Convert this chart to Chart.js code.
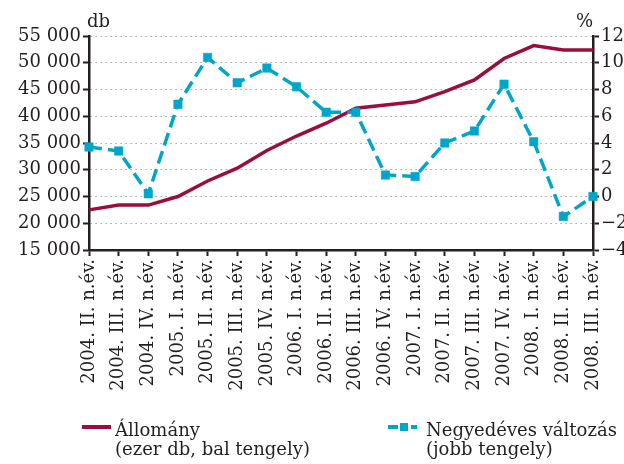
<!DOCTYPE html>
<html>
<head>
<meta charset="utf-8">
<script src="https://cdn.jsdelivr.net/npm/chart.js@4.4.1/dist/chart.umd.min.js"></script>
<style>
  html, body { margin: 0; padding: 0; background: #fff; }
  #wrap { position: relative; width: 624px; height: 464px; overflow: hidden; background: #fff; }
  #c { position: absolute; left: 0; top: 0; }
  .lg { position: absolute; font-family: "DejaVu Serif", serif; font-size: 18px; line-height: 19px; color: #231f20; white-space: nowrap; }
  .sw { position: absolute; }
</style>
</head>
<body>
<div id="wrap">
  <canvas id="c" width="624" height="464"></canvas>
  <div class="sw" style="left:82px; top:425px; width:29px; height:3.5px; background:#9b0d3c;"></div>
  <div class="lg" id="lg1" style="left:115px; top:420px;"></div>
  <div class="sw" style="left:388px; top:425px; width:10px; height:3.5px; background:#00a6c9;"></div>
  <div class="sw" style="left:400px; top:422.5px; width:8px; height:8.5px; background:#00a6c9;"></div>
  <div class="sw" style="left:411px; top:425px; width:6px; height:3.5px; background:#00a6c9;"></div>
  <div class="lg" id="lg2" style="left:426px; top:420px;"></div>
</div>
<script>
// ---- data ----
const categories = [
  "2004. II. n.év.", "2004. III. n.év.", "2004. IV. n.év.",
  "2005. I. n.év.", "2005. II. n.év.", "2005. III. n.év.", "2005. IV. n.év.",
  "2006. I. n.év.", "2006. II. n.év.", "2006. III. n.év.", "2006. IV. n.év.",
  "2007. I. n.év.", "2007. II. n.év.", "2007. III. n.év.", "2007. IV. n.év.",
  "2008. I. n.év.", "2008. II. n.év.", "2008. III. n.év."
];
const allomany = [22500, 23400, 23400, 25000, 27900, 30300, 33600, 36300, 38700, 41500, 42100, 42700, 44600, 46800, 50800, 53200, 52400, 52400];
const valtozas = [3.7, 3.4, 0.2, 6.9, 10.4, 8.5, 9.6, 8.2, 6.3, 6.3, 1.6, 1.5, 4.0, 4.9, 8.4, 4.1, -1.5, 0.0];
const seriesNames = ["Állomány", "Negyedéves változás"];
const legendNotes = ["(ezer db, bal tengely)", "(jobb tengely)"];
const leftUnit = "db";
const rightUnit = "%";
const leftRange = { min: 15000, max: 55000, step: 5000 };
const rightRange = { min: -4, max: 12, step: 2 };

// ---- legend text ----
document.getElementById('lg1').innerHTML = seriesNames[0] + '<br>' + legendNotes[0];
document.getElementById('lg2').innerHTML = seriesNames[1] + '<br>' + legendNotes[1];

const ink = '#231f20';
const font = { family: "'DejaVu Serif', serif", size: 18 };
const fmtThousands = v => String(v).replace(/\B(?=(\d{3})+(?!\d))/g, ' ');
const fmtMinus = v => (v < 0 ? '\u2212' + Math.abs(v) : String(v));

const unitPlugin = {
  id: 'units',
  afterDraw(chart) {
    const { ctx, chartArea } = chart;
    ctx.save();
    ctx.font = "18px 'DejaVu Serif', serif";
    ctx.fillStyle = ink;
    ctx.textBaseline = 'alphabetic';
    ctx.textAlign = 'left';
    ctx.fillText(leftUnit, chartArea.left - 2, 27);
    ctx.textAlign = 'right';
    ctx.fillText(rightUnit, chartArea.right, 27);
    ctx.restore();
  }
};

new Chart(document.getElementById('c'), {
  type: 'line',
  data: {
    labels: categories,
    datasets: [
      {
        label: seriesNames[0],
        data: allomany,
        yAxisID: 'y',
        borderColor: '#9b0d3c',
        backgroundColor: '#9b0d3c',
        borderWidth: 3.5,
        pointRadius: 0,
        tension: 0,
        order: 2
      },
      {
        label: seriesNames[1],
        data: valtozas,
        yAxisID: 'y1',
        borderColor: '#00a6c9',
        backgroundColor: '#00a6c9',
        borderWidth: 3.5,
        borderDash: [13, 6],
        pointStyle: 'rect',
        pointRadius: 6,
        pointBorderWidth: 0.5,
        tension: 0,
        order: 1
      }
    ]
  },
  options: {
    responsive: false,
    animation: false,
    devicePixelRatio: 1,
    layout: { padding: { top: 36, left: 0, right: 0, bottom: 0 } },
    plugins: { legend: { display: false }, tooltip: { enabled: false } },
    scales: {
      x: {
        type: 'category',
        offset: false,
        grid: { drawOnChartArea: false, drawTicks: true, tickLength: 6, tickColor: ink, tickWidth: 2 },
        border: { display: true, color: ink, width: 2.5 },
        ticks: { minRotation: 90, maxRotation: 90, autoSkip: false, padding: 3, color: ink, font },
        afterFit: s => { s.height = 214; }
      },
      y: {
        position: 'left',
        min: leftRange.min, max: leftRange.max,
        ticks: { stepSize: leftRange.step, callback: fmtThousands, padding: 2, color: ink, font },
        grid: { color: '#8c8c8c', lineWidth: 1, tickColor: ink, tickLength: 6, tickWidth: 2 },
        border: { display: true, color: ink, width: 2.5, dash: [1.2, 3.8] },
        afterFit: s => { s.width = 89; }
      },
      y1: {
        position: 'right',
        min: rightRange.min, max: rightRange.max,
        ticks: { stepSize: rightRange.step, callback: fmtMinus, padding: 2, color: ink, font },
        grid: { drawOnChartArea: false, tickColor: ink, tickLength: 6, tickWidth: 2 },
        border: { display: true, color: ink, width: 2.5 },
        afterFit: s => { s.width = 31; }
      }
    }
  },
  plugins: [unitPlugin]
});
</script>
</body>
</html>
